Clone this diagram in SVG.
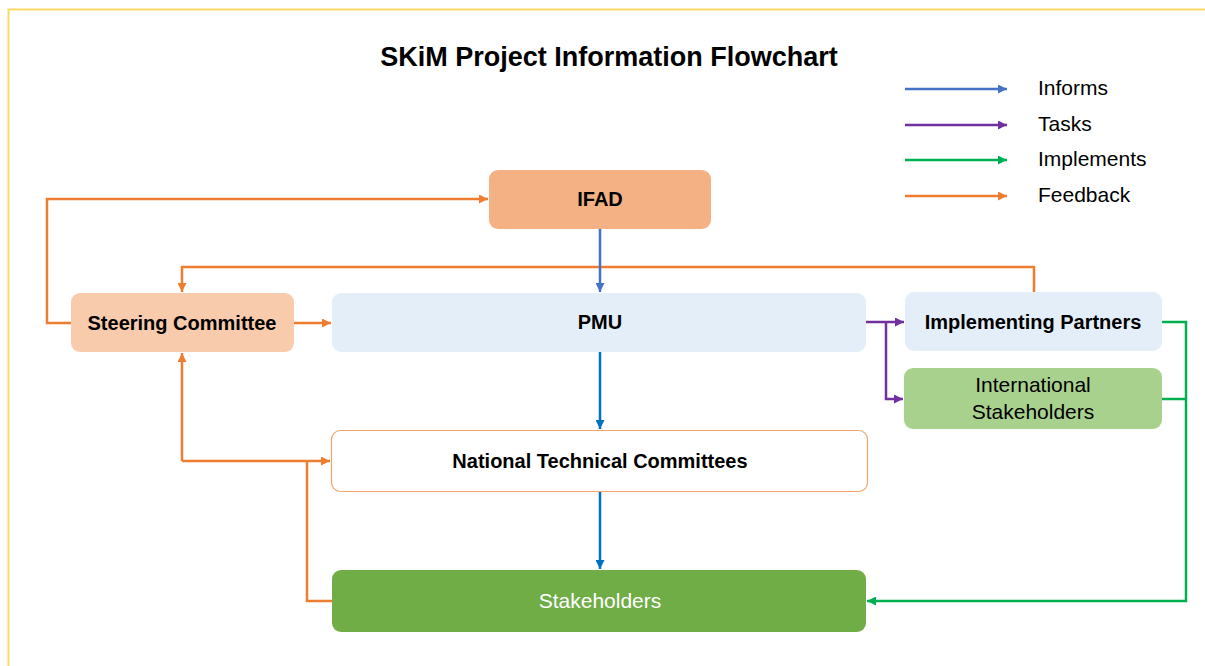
<svg xmlns="http://www.w3.org/2000/svg" width="1205" height="666" viewBox="0 0 1205 666">
<defs>
<marker id="aO" viewBox="0 0 10 10" refX="10" refY="5" markerWidth="10" markerHeight="9" markerUnits="userSpaceOnUse" orient="auto"><path d="M0,0 L10,5 L0,10 z" fill="#ED7D31"/></marker>
<marker id="aB" viewBox="0 0 10 10" refX="10" refY="5" markerWidth="10" markerHeight="9" markerUnits="userSpaceOnUse" orient="auto"><path d="M0,0 L10,5 L0,10 z" fill="#4472C4"/></marker>
<marker id="aD" viewBox="0 0 10 10" refX="10" refY="5" markerWidth="10" markerHeight="9" markerUnits="userSpaceOnUse" orient="auto"><path d="M0,0 L10,5 L0,10 z" fill="#0070C0"/></marker>
<marker id="aP" viewBox="0 0 10 10" refX="10" refY="5" markerWidth="10" markerHeight="9" markerUnits="userSpaceOnUse" orient="auto"><path d="M0,0 L10,5 L0,10 z" fill="#7030A0"/></marker>
<marker id="aG" viewBox="0 0 10 10" refX="10" refY="5" markerWidth="10" markerHeight="9" markerUnits="userSpaceOnUse" orient="auto"><path d="M0,0 L10,5 L0,10 z" fill="#00B050"/></marker>
</defs>
<style>
text{font-family:"Liberation Sans",Arial,sans-serif;fill:#000;}
.b{font-weight:bold;font-size:20px;}
.r{font-size:21px;}
.t{font-weight:bold;font-size:27px;}
.c{fill:none;stroke-width:2.5;}
.o{stroke:#ED7D31;}
.bl{stroke:#4472C4;}
.db{stroke:#0070C0;}
.p{stroke:#7030A0;}
.g{stroke:#00B050;}
</style>
<rect x="0" y="0" width="1205" height="666" fill="#fff"/>
<path d="M8.5,666 V9.5 H1205" fill="none" stroke="#FFD966" stroke-width="2"/>
<text class="t" x="609" y="66" text-anchor="middle">SKiM Project Information Flowchart</text>
<g id="legend">
<line class="c bl" x1="905" y1="89" x2="1007" y2="89" marker-end="url(#aB)"/>
<line class="c p" x1="905" y1="125" x2="1007" y2="125" marker-end="url(#aP)"/>
<line class="c g" x1="905" y1="160" x2="1007" y2="160" marker-end="url(#aG)"/>
<line class="c o" x1="905" y1="196" x2="1007" y2="196" marker-end="url(#aO)"/>
<text class="r" x="1038" y="95">Informs</text>
<text class="r" x="1038" y="131">Tasks</text>
<text class="r" x="1038" y="166">Implements</text>
<text class="r" x="1038" y="202">Feedback</text>
</g>
<g id="connectors">
<path class="c o" d="M71,323 H47 V199 H488" marker-end="url(#aO)"/>
<path class="c o" d="M1034,292 V267 H182 V292" marker-end="url(#aO)"/>
<path class="c o" d="M294,323 H331" marker-end="url(#aO)"/>
<path class="c o" d="M182,461 V353" marker-end="url(#aO)"/>
<path class="c o" d="M182,461 H330" marker-end="url(#aO)"/>
<path class="c o" d="M332,601 H307 V461"/>
<path class="c bl" d="M600,229 V292" marker-end="url(#aB)"/>
<path class="c db" d="M600,352 V429" marker-end="url(#aD)"/>
<path class="c db" d="M600,492 V569" marker-end="url(#aD)"/>
<path class="c p" d="M866,322 H904" marker-end="url(#aP)"/>
<path class="c p" d="M886,322 V399 H903" marker-end="url(#aP)"/>
<path class="c g" d="M1162,322 H1186 V601 H867" marker-end="url(#aG)"/>
<path class="c g" d="M1162,399 H1186"/>
</g>
<g id="ifad">
<rect x="489" y="170" width="222" height="59" rx="9" fill="#F4B183"/>
<text class="b" x="600" y="206" text-anchor="middle">IFAD</text>
</g>
<g id="steering">
<rect x="71" y="293" width="223" height="59" rx="9" fill="#F8CBAD"/>
<text class="b" x="182" y="330" text-anchor="middle">Steering Committee</text>
</g>
<g id="pmu">
<rect x="332" y="293" width="534" height="59" rx="9" fill="#E4EEF8"/>
<text class="b" x="600" y="329" text-anchor="middle">PMU</text>
</g>
<g id="implementing">
<rect x="905" y="292" width="257" height="59" rx="9" fill="#E4EEF8"/>
<text class="b" x="1033" y="329" text-anchor="middle">Implementing Partners</text>
</g>
<g id="international">
<rect x="904" y="368" width="258" height="61" rx="9" fill="#A9D18E"/>
<text class="r" x="1033" y="392" text-anchor="middle">International</text>
<text class="r" x="1033" y="419" text-anchor="middle">Stakeholders</text>
</g>
<g id="ntc">
<rect x="331.5" y="430.5" width="536" height="61" rx="9" fill="#fff" stroke="#F4A46A" stroke-width="1.2"/>
<text class="b" x="600" y="468" text-anchor="middle">National Technical Committees</text>
</g>
<g id="stakeholders">
<rect x="332" y="570" width="534" height="62" rx="9" fill="#70AD47"/>
<text class="r" x="600" y="608" text-anchor="middle" style="fill:#fff">Stakeholders</text>
</g>
</svg>
